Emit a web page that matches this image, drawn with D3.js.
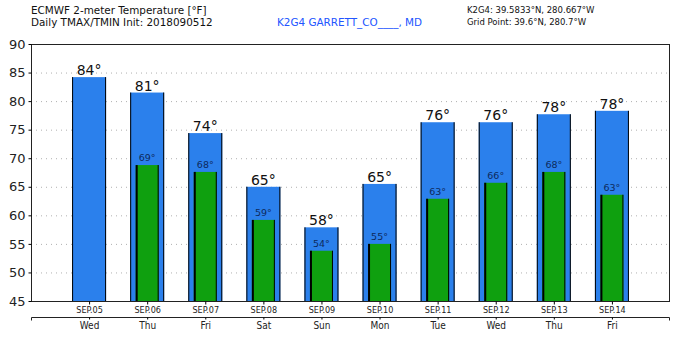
<!DOCTYPE html>
<html><head><meta charset="utf-8">
<script src="https://cdn.jsdelivr.net/npm/d3@7"></script>
<style>body{margin:0;background:#fff}svg{display:block}text{font-family:"DejaVu Sans",sans-serif}</style>
</head><body><svg id="c" width="676" height="338"></svg>
<script>
const dates = ["SEP.05","SEP.06","SEP.07","SEP.08","SEP.09","SEP.10","SEP.11","SEP.12","SEP.13","SEP.14"];
const days = ["Wed","Thu","Fri","Sat","Sun","Mon","Tue","Wed","Thu","Fri"];
const tmax = [84.2,81.5,74.4,65.0,57.9,65.5,76.3,76.3,77.7,78.3];
const tmaxLabels = ["84°","81°","74°","65°","58°","65°","76°","76°","78°","78°"];
const tmin = [null,68.8,67.6,59.2,53.8,55.0,62.9,65.7,67.6,63.6];
const tminLabels = [null,"69°","68°","59°","54°","55°","63°","66°","68°","63°"];
const yTicks = [45,50,55,60,65,70,75,80,85,90];

const svg = d3.select("#c");
const L=31,R=670,T=44,B=301;
const x = d3.scaleLinear().domain([0,dates.length+1]).range([L,R]);
const y = d3.scaleLinear().domain([45,90]).range([B,T]);
const blue="#2b80ec", green="#0fa00f";

// grid
svg.append("g").selectAll("line").data(yTicks.filter(v=>v>45&&v<90)).join("line")
  .attr("x1",L).attr("x2",R).attr("y1",d=>y(d)+0.5).attr("y2",d=>y(d)+0.5)
  .attr("stroke","#b0b0b0").attr("stroke-dasharray","1,4");

const g = svg.append("g");
dates.forEach((d,i)=>{
  const cx = x(i+1);
  const bw=34, gw=23;
  g.append("rect").attr("x",cx-bw/2).attr("y",y(tmax[i])).attr("width",bw).attr("height",B-y(tmax[i])).attr("fill",blue);
  g.append("line").attr("x1",cx-bw/2+0.5).attr("x2",cx-bw/2+0.5).attr("y1",y(tmax[i])).attr("y2",B).attr("stroke","#000");
  g.append("line").attr("x1",cx+bw/2-0.5).attr("x2",cx+bw/2-0.5).attr("y1",y(tmax[i])).attr("y2",B).attr("stroke","#000");
  g.append("text").attr("x",cx).attr("y",y(tmax[i])-2).attr("text-anchor","middle").attr("font-size",14).attr("fill","#111").text(tmaxLabels[i]);
  if(tmin[i]!=null){
    g.append("rect").attr("x",cx-gw/2).attr("y",y(tmin[i])).attr("width",gw).attr("height",B-y(tmin[i])).attr("fill",green);
    g.append("line").attr("x1",cx-gw/2+1).attr("x2",cx-gw/2+1).attr("y1",y(tmin[i])).attr("y2",B).attr("stroke","#000").attr("stroke-width",2);
    g.append("line").attr("x1",cx+gw/2-0.5).attr("x2",cx+gw/2-0.5).attr("y1",y(tmin[i])).attr("y2",B).attr("stroke","#000");
    g.append("text").attr("x",cx).attr("y",y(tmin[i])-4).attr("text-anchor","middle").attr("font-size",9.5).attr("fill","#0d2a5c").text(tminLabels[i]);
  }
});

// frame
svg.append("rect").attr("x",L+0.5).attr("y",T+0.5).attr("width",R-L-1).attr("height",B-T).attr("fill","none").attr("stroke","#222");

// y axis
const ya = svg.append("g").attr("transform",`translate(${L+0.5},0)`).call(d3.axisLeft(y).tickValues(yTicks).tickSize(3).tickPadding(3));
ya.select(".domain").remove();
ya.selectAll("text").attr("font-size",13).attr("fill","#222").style("font-family","DejaVu Sans");

// x axis dates
const xa = svg.append("g").attr("transform",`translate(0,${B+0.5})`).call(d3.axisBottom(x).tickValues(d3.range(1,dates.length+1)).tickFormat(i=>dates[i-1]).tickSize(3).tickPadding(2));
xa.select(".domain").remove();
xa.selectAll("text").attr("font-size",9).attr("fill","#222").style("font-family","DejaVu Sans Condensed");

// day axis
const da = svg.append("g").attr("transform",`translate(0,317.5)`).call(d3.axisBottom(x).tickValues(d3.range(1,dates.length+1)).tickFormat(i=>days[i-1]).tickSize(2).tickSizeOuter(3).tickPadding(2));
da.select(".domain").attr("stroke","#222").attr("d",`M${L+0.5},3V0H${R-0.5}V3`);
da.selectAll("text").attr("font-size",10).attr("fill","#222").style("font-family","DejaVu Sans Condensed");

// titles
svg.append("text").attr("x",31).attr("y",14).attr("font-size",10.4).attr("fill","#111").text("ECMWF 2-meter Temperature [°F]");
svg.append("text").attr("x",31).attr("y",26).attr("font-size",10.4).attr("fill","#111").text("Daily TMAX/TMIN Init: 2018090512");
svg.append("text").attr("x",277).attr("y",26).attr("font-size",10.4).attr("fill","#2255ff").text("K2G4 GARRETT_CO____, MD");
svg.append("text").attr("x",467).attr("y",13).attr("font-size",8.5).attr("fill","#111").text("K2G4: 39.5833°N, 280.667°W");
svg.append("text").attr("x",467).attr("y",25).attr("font-size",8.5).attr("fill","#111").text("Grid Point: 39.6°N, 280.7°W");
</script></body></html>
